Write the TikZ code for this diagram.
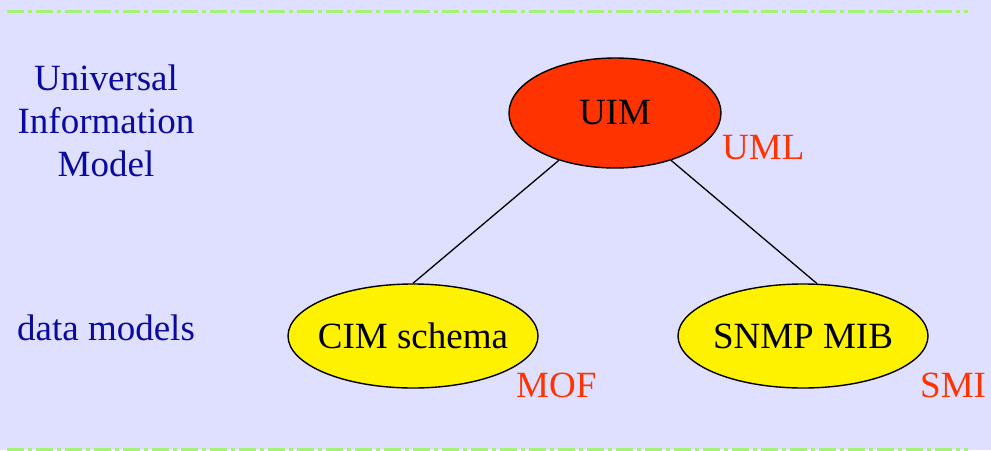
\documentclass[tikz,border=0pt]{standalone}
\usepackage{fontspec}
\setmainfont{Liberation Serif}
\usetikzlibrary{shapes.geometric}
\definecolor{bgblue}{HTML}{DFDFFF}
\definecolor{rulegreen}{HTML}{A4F276}
\definecolor{navytext}{HTML}{0A0AA0}
\definecolor{redlabel}{HTML}{FF3300}
\begin{document}
\begin{tikzpicture}[x=1pt,y=-1pt,
  every node/.style={font=\fontsize{37}{43}\selectfont},
  % ellipse drawn at a fixed size; its caption sits in the middle as a label
  model/.style={ellipse,draw=black,line width=1.4pt,minimum width=212pt,minimum height=110pt,inner sep=0pt,
    label={[inner sep=0pt]center:#1}},
  datamodel/.style={model=#1,fill=yellow,minimum width=250pt,minimum height=104pt},
  lang/.style={text=redlabel,anchor=west,inner sep=0pt},
  level/.style={text=navytext,align=center,inner sep=0pt},
  rule/.style={rulegreen,line width=3pt,dash pattern=on 17pt off 4pt on 4pt off 4pt},
  link/.style={line width=1.3pt}]
  % background and margins
  \fill[bgblue] (0,0) rectangle (991,450);
  \useasboundingbox (0,0) rectangle (991,450);
  % dash-dot rules at top and bottom
  \coordinate (rtl) at (7,11);
  \coordinate (rtr) at (968,11);
  \coordinate (rbl) at (7,449.5);
  \coordinate (rbr) at (968,449.5);
  \draw[rule] (rtl) -- (rtr);
  \draw[rule] (rbl) -- (rbr);
  % level captions
  \node[level] (univ) at (106,121) {Universal\\Information\\Model};
  \node[level] (data) at (106,328) {data models};
  % model nodes
  \node[model=UIM,fill=redlabel] (uim) at (615,113) {};
  \node[datamodel=CIM schema] (cim) at (413,336) {};
  \node[datamodel=SNMP MIB] (snmp) at (803,336) {};
  % languages
  \node[lang] (uml) at (722,148) {UML};
  \node[lang] (mof) at (516,385) {MOF};
  \node[lang] (smi) at (920,385) {SMI};
  % hierarchy links
  \draw[link] (cim.north) -- (uim);
  \draw[link] (snmp.75) -- (uim);
\end{tikzpicture}
\end{document}
